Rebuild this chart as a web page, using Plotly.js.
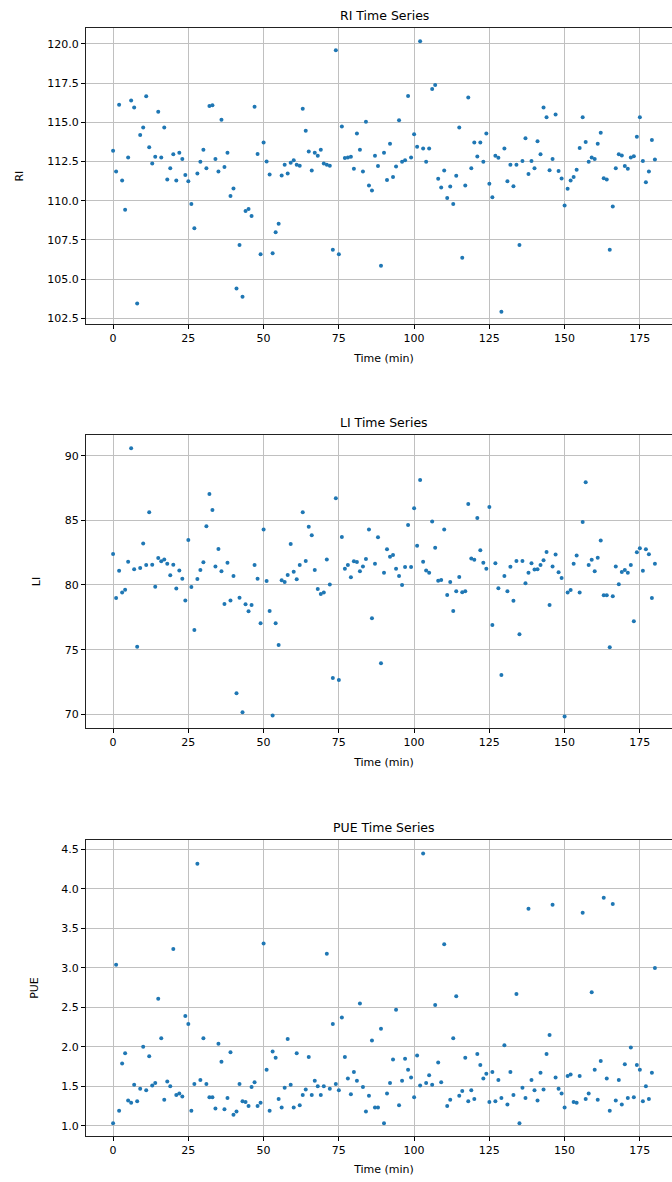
<!DOCTYPE html>
<html>
<head>
<meta charset="utf-8">
<script src="https://cdn.plot.ly/plotly-3.0.1.min.js"></script>
<style>
html,body{margin:0;padding:0;background:#fff;overflow:hidden;width:672px;height:1182px;}
#chart{width:700px;height:1182px;}
</style>
</head>
<body>
<div id="chart"></div>
<script>
// Time index (minutes)
const timeMin = [0,1,2,3,4,5,6,7,8,9,10,11,12,13,14,15,16,17,18,19,20,21,22,23,24,25,26,27,28,29,30,31,32,33,34,35,36,37,38,39,40,41,42,43,44,45,46,47,48,49,50,51,52,53,54,55,56,57,58,59,60,61,62,63,64,65,66,67,68,69,70,71,72,73,74,75,76,77,78,79,80,81,82,83,84,85,86,87,88,89,90,91,92,93,94,95,96,97,98,99,100,101,102,103,104,105,106,107,108,109,110,111,112,113,114,115,116,117,118,119,120,121,122,123,124,125,126,127,128,129,130,131,132,133,134,135,136,137,138,139,140,141,142,143,144,145,146,147,148,149,150,151,152,153,154,155,156,157,158,159,160,161,162,163,164,165,166,167,168,169,170,171,172,173,174,175,176,177,178,179,180];

const riValues = [113.19,111.87,116.12,111.29,109.42,112.76,116.40,115.95,103.45,114.19,
114.68,116.66,113.42,112.38,112.80,115.68,112.76,114.68,111.35,112.08,
112.97,111.29,113.06,112.67,111.65,111.25,109.80,108.25,111.74,112.48,
113.25,112.08,116.04,116.10,112.67,111.87,115.17,112.16,113.06,110.31,
110.78,104.41,107.18,103.88,109.35,109.48,109.03,116.00,112.99,106.58,
113.72,112.50,111.67,106.65,107.99,108.54,111.61,112.29,111.74,112.42,
112.59,112.29,112.23,115.87,114.46,113.14,111.93,113.06,112.87,113.25,
112.38,112.29,112.23,106.88,119.60,106.58,114.74,112.72,112.76,112.80,
112.04,114.29,113.25,111.87,115.04,110.97,110.65,112.87,112.21,105.86,
113.06,111.33,113.63,111.52,112.18,115.14,112.48,112.59,116.68,112.76,
114.25,113.44,120.17,113.33,112.48,113.33,117.13,117.38,111.40,110.84,
111.93,110.18,110.91,109.80,111.59,114.68,106.37,110.97,116.59,112.08,
113.72,112.82,113.72,112.48,114.29,111.08,110.23,112.87,112.74,102.92,
113.33,111.25,112.29,110.93,112.29,107.18,112.53,113.99,111.70,112.53,
112.08,113.80,112.97,115.95,115.32,111.95,112.67,115.51,111.89,111.42,
109.69,110.76,111.29,111.52,111.97,113.36,115.32,113.74,112.48,112.76,
112.67,113.63,114.34,111.44,111.35,106.88,109.63,112.08,112.97,112.89,
112.21,112.04,112.76,112.84,114.08,115.32,112.53,111.18,111.87,113.87,
112.63];

const liValues = [82.40,79.00,81.11,79.41,79.64,81.80,90.57,81.21,75.23,81.31,
83.20,81.55,85.62,81.57,79.87,82.09,81.83,81.98,81.65,80.75,
81.57,79.72,81.13,80.49,78.81,83.48,79.85,76.52,80.46,81.16,
81.75,84.54,87.04,85.80,81.44,82.78,81.06,78.53,81.73,78.81,
80.70,71.62,79.02,70.15,78.51,77.96,78.45,81.55,80.49,77.04,
84.30,80.31,77.99,69.90,77.04,75.36,80.36,80.23,80.77,83.17,
81.03,80.44,81.55,85.62,81.86,84.51,83.84,81.16,79.69,79.30,
79.41,81.98,80.03,72.81,86.70,72.65,83.71,81.26,81.55,80.59,
81.83,81.78,81.06,81.44,82.01,84.30,77.42,81.65,83.69,73.94,
80.95,82.76,82.19,82.32,81.26,80.70,80.00,81.39,84.64,81.39,
85.93,83.04,88.12,81.80,81.13,80.95,84.92,82.89,80.33,80.39,
84.30,79.23,80.23,77.99,79.51,80.62,79.43,79.51,86.26,82.04,
81.96,85.18,82.68,81.73,81.26,86.03,76.91,81.68,79.74,73.04,
80.70,79.51,81.42,78.79,81.86,76.19,81.86,80.13,80.95,81.68,
81.19,81.21,81.55,81.91,82.55,78.45,81.44,82.35,80.98,80.54,
69.82,79.41,79.61,81.65,82.29,79.41,84.87,87.94,81.55,81.96,
81.06,82.11,83.45,79.20,79.20,75.18,79.12,81.44,80.05,81.01,
81.16,80.95,81.55,77.19,82.53,82.84,81.11,82.76,82.37,79.00,
81.65];

const pueValues = [1.03,3.04,1.19,1.79,1.92,1.32,1.29,1.52,1.31,1.47,
2.00,1.45,1.88,1.51,1.54,2.61,2.11,1.33,1.56,1.50,
3.24,1.39,1.41,1.37,2.39,2.29,1.19,1.53,4.32,1.58,
2.11,1.53,1.36,1.36,1.22,2.04,1.81,1.21,1.35,1.93,
1.14,1.18,1.53,1.31,1.30,1.25,1.49,1.55,1.25,1.29,
3.31,1.71,1.19,1.94,1.86,1.34,1.23,1.48,2.10,1.52,
1.23,1.92,1.26,1.39,1.46,1.87,1.39,1.57,1.50,1.39,
1.50,3.18,1.47,2.29,1.53,1.45,2.37,1.87,1.60,1.40,
1.68,1.57,2.55,1.49,1.18,1.38,2.08,1.23,1.23,2.23,
1.03,1.41,1.54,1.84,2.47,1.26,1.57,1.85,1.71,1.61,
1.36,1.89,1.51,4.45,1.54,1.64,1.52,2.53,1.80,1.55,
3.30,1.25,1.33,2.11,2.64,1.38,1.44,1.86,1.31,1.45,
1.34,1.91,1.77,1.60,1.66,1.30,1.68,1.31,1.58,1.35,
2.02,1.27,1.68,1.39,2.67,1.03,1.48,1.35,3.75,1.58,
1.45,1.32,1.67,1.46,1.91,2.15,3.80,1.61,1.47,1.41,
1.23,1.63,1.65,1.30,1.29,1.63,3.70,1.34,1.41,2.69,
1.71,1.33,1.82,3.89,1.60,1.19,3.81,1.32,1.58,1.27,
1.78,1.35,1.99,1.36,1.77,1.71,1.31,1.50,1.34,1.67,
3.00];

const panelTitles = ['RI Time Series', 'LI Time Series', 'PUE Time Series'];
const yTitles = ['RI', 'LI', 'PUE'];
const xTitle = 'Time (min)';
const xTicks = [0,25,50,75,100,125,150,175];

const FONT = 'DejaVu Sans, Liberation Sans, sans-serif';
const BLUE = '#1f77b4';

function trace(y, ax) {
  return {
    x: timeMin, y: y, type: 'scatter', mode: 'markers',
    xaxis: 'x' + (ax === 1 ? '' : ax), yaxis: 'y' + (ax === 1 ? '' : ax),
    marker: {color: BLUE, size: 4, line: {width: 0}},
    hoverinfo: 'x+y', showlegend: false
  };
}

function xax(anchor) {
  return {
    anchor: anchor, domain: [0, 1], range: [-9, 189],
    tickvals: xTicks, ticks: 'outside', ticklen: 4, tickwidth: 1, tickcolor: '#000',
    showgrid: true, gridcolor: '#c0c0c0', gridwidth: 1,
    showline: true, mirror: true, linecolor: '#222', linewidth: 1,
    zeroline: false, tickfont: {family: FONT, size: 11, color: '#000'},
    title: {text: xTitle, font: {family: FONT, size: 11, color: '#000'}, standoff: 9}
  };
}
function yax(anchor, domain, range, dtick, fmt, title, standoff) {
  return {
    anchor: anchor, domain: domain, range: range, dtick: dtick, tick0: 0,
    tickformat: fmt, ticks: 'outside', ticklen: 4, tickwidth: 1, tickcolor: '#000',
    showgrid: true, gridcolor: '#c0c0c0', gridwidth: 1,
    showline: true, mirror: true, linecolor: '#222', linewidth: 1,
    zeroline: false, tickfont: {family: FONT, size: 11, color: '#000'},
    title: {text: title, font: {family: FONT, size: 11, color: '#000'}, standoff: standoff}
  };
}

const data = [trace(riValues, 1), trace(liValues, 2), trace(pueValues, 3)];

const d1 = [0.7326, 1.0], d2 = [0.3680, 0.6329], d3 = [0.0, 0.2671];

const layout = {
  width: 700, height: 1182,
  margin: {l: 86, r: 18, t: 28, b: 46},
  paper_bgcolor: '#fff', plot_bgcolor: '#fff',
  font: {family: FONT, size: 11, color: '#000'},
  xaxis: xax('y'), xaxis2: xax('y2'), xaxis3: xax('y3'),
  yaxis: yax('x', d1, [102.12, 121.02], 2.5, '.1f', yTitles[0], 21),
  yaxis2: yax('x2', d2, [68.92, 91.62], 5, 'd', yTitles[1], 21),
  yaxis3: yax('x3', d3, [0.87, 4.62], 0.5, '.1f', yTitles[2], 20),
  annotations: [
    {text: panelTitles[0], xref: 'paper', yref: 'paper', x: 0.5, y: d1[1], yanchor: 'bottom', yshift: 3, showarrow: false, font: {family: FONT, size: 12.5, color: '#000'}},
    {text: panelTitles[1], xref: 'paper', yref: 'paper', x: 0.5, y: d2[1], yanchor: 'bottom', yshift: 3, showarrow: false, font: {family: FONT, size: 12.5, color: '#000'}},
    {text: panelTitles[2], xref: 'paper', yref: 'paper', x: 0.5, y: d3[1], yanchor: 'bottom', yshift: 3, showarrow: false, font: {family: FONT, size: 12.5, color: '#000'}}
  ]
};

Plotly.newPlot('chart', data, layout, {staticPlot: true, displayModeBar: false});
</script>
</body>
</html>
